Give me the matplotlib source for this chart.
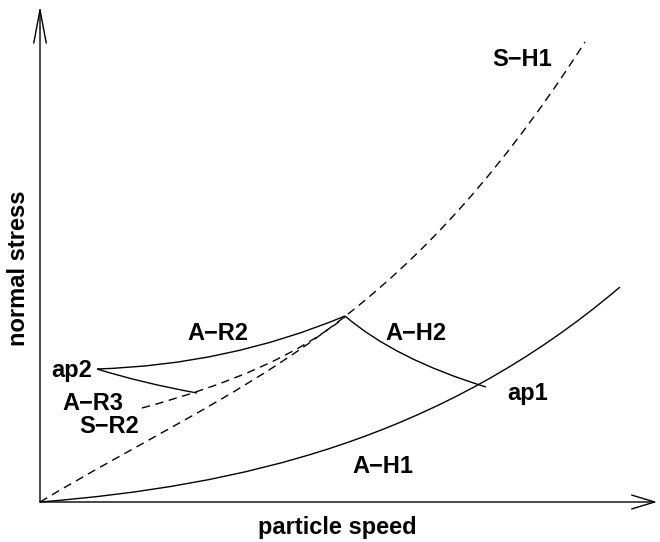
import matplotlib
matplotlib.use('Agg')
import matplotlib.pyplot as plt
from matplotlib.path import Path
from matplotlib.patches import PathPatch

plt.rcParams['font.family'] = ['Liberation Sans', 'DejaVu Sans']
plt.rcParams['font.weight'] = 'bold'

# curves (schematic units, origin at the axes corner)
# cubic curves: start, control 1, control 2, end
ah1_pts = [(0, 0), (200, 16), (400, 62), (580, 215)]
sh1_pts = [(0, 0), (200, 120), (355, 164), (545, 460)]
# quadratic curves: start, control, end
sr2_pts = [(102, 94), (237, 130), (305, 185)]
ar2_pts = [(57, 133), (188, 137), (305, 186)]
ar3_pts = [(57, 133), (102, 119), (157, 109)]
ah2_pts = [(305, 186), (355, 143), (446, 115)]

# labels: text, x centre, baseline y
labels = ['S\u2212H1', 'A\u2212R2', 'A\u2212H2', 'ap2', 'A\u2212R3', 'S\u2212R2', 'ap1', 'A\u2212H1']
label_x = [482, 178, 376, 32, 53, 69, 488, 343]
label_y = [436, 162, 162, 125, 92, 69, 102, 29]

fig = plt.figure(figsize=(6.6, 5.42), dpi=100)
ax = fig.add_axes([0, 0, 1, 1])
ax.set_xlim(-40, 620)
ax.set_ylim(-40, 502)
ax.axis('off')


def curve(pts, dashed=False):
    if len(pts) == 4:
        codes = [Path.MOVETO, Path.CURVE4, Path.CURVE4, Path.CURVE4]
    else:
        codes = [Path.MOVETO, Path.CURVE3, Path.CURVE3]
    ls = (0, (6, 4)) if dashed else '-'
    ax.add_patch(PathPatch(Path(pts, codes), fill=False, edgecolor='black',
                           lw=1.0, linestyle=ls, capstyle='butt'))


curve(ah1_pts)
curve(ar2_pts)
curve(ar3_pts)
curve(ah2_pts)
curve(sh1_pts, dashed=True)
curve(sr2_pts, dashed=True)

# axes with open arrow heads
ax.annotate('', xy=(0, 496), xytext=(0, 0),
            arrowprops=dict(arrowstyle='->,head_length=2.4,head_width=0.45',
                            lw=1.0, color='black', shrinkA=0, shrinkB=0))
ax.annotate('', xy=(617, 0), xytext=(0, 0),
            arrowprops=dict(arrowstyle='->,head_length=1.65,head_width=0.5',
                            lw=1.0, color='black', shrinkA=0, shrinkB=0))

for t, x, y in zip(labels, label_x, label_y):
    ax.text(x, y, t, fontsize=17, fontweight='bold', ha='center', va='baseline')

ax.text(297, -32, 'particle speed', fontsize=17, fontweight='bold',
        ha='center', va='baseline')
ax.text(-15, 234, 'normal stress', fontsize=17, fontweight='bold',
        rotation=90, rotation_mode='anchor', ha='center', va='baseline')

fig.savefig('out.png', dpi=100)
